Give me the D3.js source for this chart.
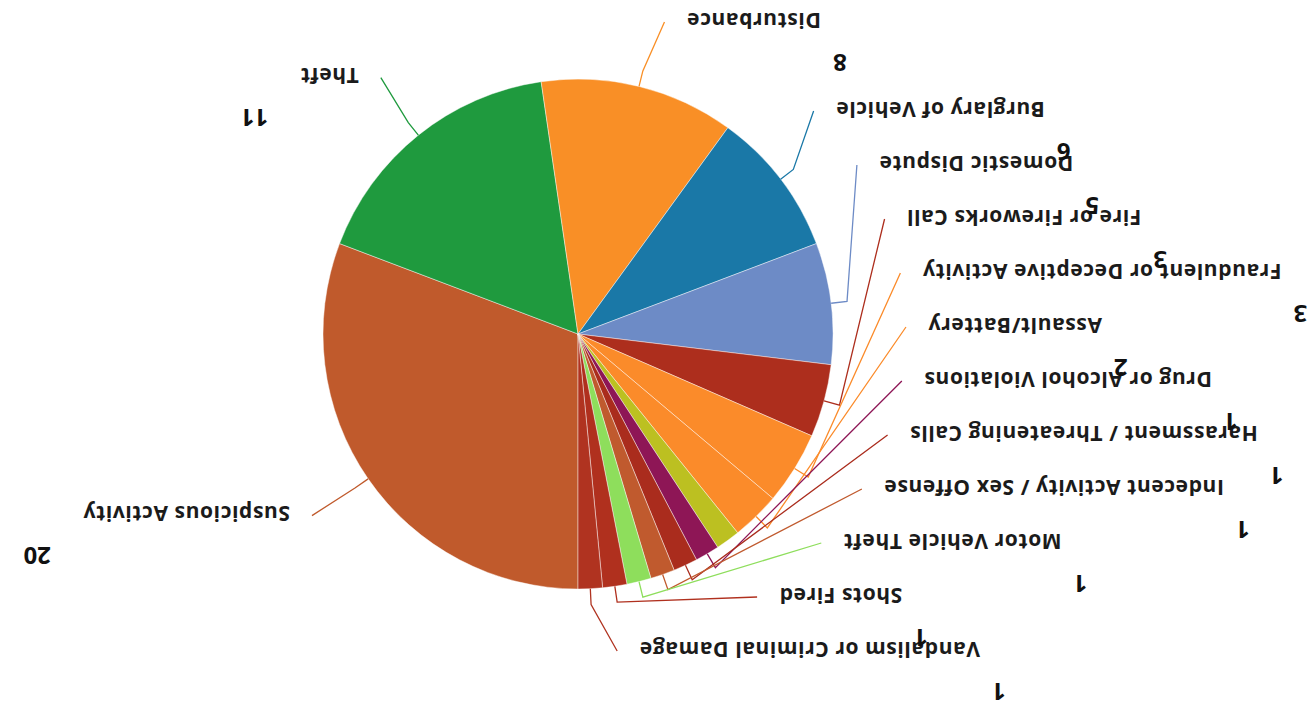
<!DOCTYPE html>
<html>
<head>
<meta charset="utf-8">
<script src="https://cdn.jsdelivr.net/npm/d3@7"></script>
<style>
  body { margin: 0; background: #fff; }
  svg { display: block; font-family: "Open Sans", Lato, sans-serif; }
</style>
</head>
<body>
<svg id="chart" width="1307" height="714"></svg>
<script>
// call types and counts, clockwise from 12 o'clock (one small slice has no label)
var categories = [
  "Suspicious Activity", "Theft", "Disturbance", "Burglary of Vehicle",
  "Domestic Dispute", "Fire or Fireworks Call", "Fraudulent or Deceptive Activity",
  "Assault/Battery", "", "Drug or Alcohol Violations",
  "Harassment / Threatening Calls", "Indecent Activity / Sex Offense",
  "Motor Vehicle Theft", "Shots Fired", "Vandalism or Criminal Damage"
];
var counts = [20, 11, 8, 6, 5, 3, 3, 2, 1, 1, 1, 1, 1, 1, 1];
var sliceColors = [
  "#c05a2c", "#1f9a3e", "#f98f26", "#1a78a7", "#6d8bc6", "#ad2e1d", "#fb8b2a",
  "#fb8b2a", "#bcc021", "#8e1656", "#aa2c1d", "#c05a2e", "#8ede5c", "#b0301e", "#b03320"
];

var W = 1307, H = 714;
var cx = 729, cy = 380, radius = 255;
var ellA = 350, ellB = 325, ellCy = 385;   // labels sit on this ellipse
var rowGap = 54, topY = 65, bottomY = 694;

var svg = d3.select("#chart");
// the scanned page is upside down, so draw normally and turn the lot
var root = svg.append("g")
    .attr("transform", "rotate(180," + W / 2 + "," + H / 2 + ")");

var color = d3.scaleOrdinal().domain(d3.range(categories.length)).range(sliceColors);

var data = categories.map(function(c, i) { return {label: c, count: counts[i], i: i}; });
var pie = d3.pie().sort(null).value(function(d) { return d.count; });
var arcs = pie(data);
var arc = d3.arc().innerRadius(0).outerRadius(radius);

root.append("g")
    .attr("transform", "translate(" + cx + "," + cy + ")")
  .selectAll("path")
    .data(arcs)
    .enter().append("path")
    .attr("d", arc)
    .attr("fill", function(d) { return color(d.data.i); })
    .attr("stroke", "#fff")
    .attr("stroke-opacity", 0.55)
    .attr("stroke-width", 0.8);

// label layout
var labelled = arcs.filter(function(d) { return d.data.label !== ""; });
labelled.forEach(function(d) {
  d.mid = (d.startAngle + d.endAngle) / 2;
  d.side = Math.sin(d.mid) >= 0 ? 1 : -1;
  d.ly = ellCy - ellB * Math.cos(d.mid);
});

// left hand column gets stacked from the top down
var leftCol = labelled.filter(function(d) { return d.side < 0; })
    .sort(function(a, b) { return b.mid - a.mid; });
var prev = -Infinity;
leftCol.forEach(function(d) {
  d.ly = Math.min(Math.max(d.ly, topY, prev + rowGap), bottomY);
  prev = d.ly;
});

labelled.forEach(function(d) {
  var t = (d.ly - ellCy) / ellB;
  d.lx = cx + d.side * ellA * Math.sqrt(Math.max(0, 1 - t * t));
});

function edgePoint(a, r) { return [cx + r * Math.sin(a), cy - r * Math.cos(a)]; }

var line = d3.line();

root.append("g").selectAll("path")
    .data(labelled)
    .enter().append("path")
    .attr("fill", "none")
    .attr("stroke", function(d) { return color(d.data.i); })
    .attr("stroke-width", 1.3)
    .attr("d", function(d) {
      return line([edgePoint(d.mid, radius), edgePoint(d.mid, radius + 16),
                   [d.lx - d.side * 22, d.ly - 2]]);
    });

var names = root.append("g").selectAll("text")
    .data(labelled)
    .enter().append("text")
    .attr("x", function(d) { return d.lx; })
    .attr("y", function(d) { return d.ly; })
    .attr("dy", "0.35em")
    .attr("text-anchor", function(d) { return d.side > 0 ? "start" : "end"; })
    .style("font-size", "21px")
    .style("letter-spacing", "0.6px")
    .style("font-weight", "bold")
    .style("fill", "#1b1b1b")
    .text(function(d) { return d.data.label; });

names.each(function(d) { d.tw = this.getComputedTextLength(); });

// value sits past the far end of the name, one line above it
root.append("g").selectAll("text")
    .data(labelled)
    .enter().append("text")
    .attr("x", function(d) { return d.side > 0 ? d.lx + d.tw + 32 : d.lx - d.tw - 12; })
    .attr("y", function(d) { return d.ly - 42; })
    .attr("dy", "0.35em")
    .attr("text-anchor", function(d) { return d.side > 0 ? "start" : "end"; })
    .style("font-size", "24px")
    .style("font-weight", "bold")
    .style("fill", "#111")
    .text(function(d) { return d.data.count; });
</script>
</body>
</html>
